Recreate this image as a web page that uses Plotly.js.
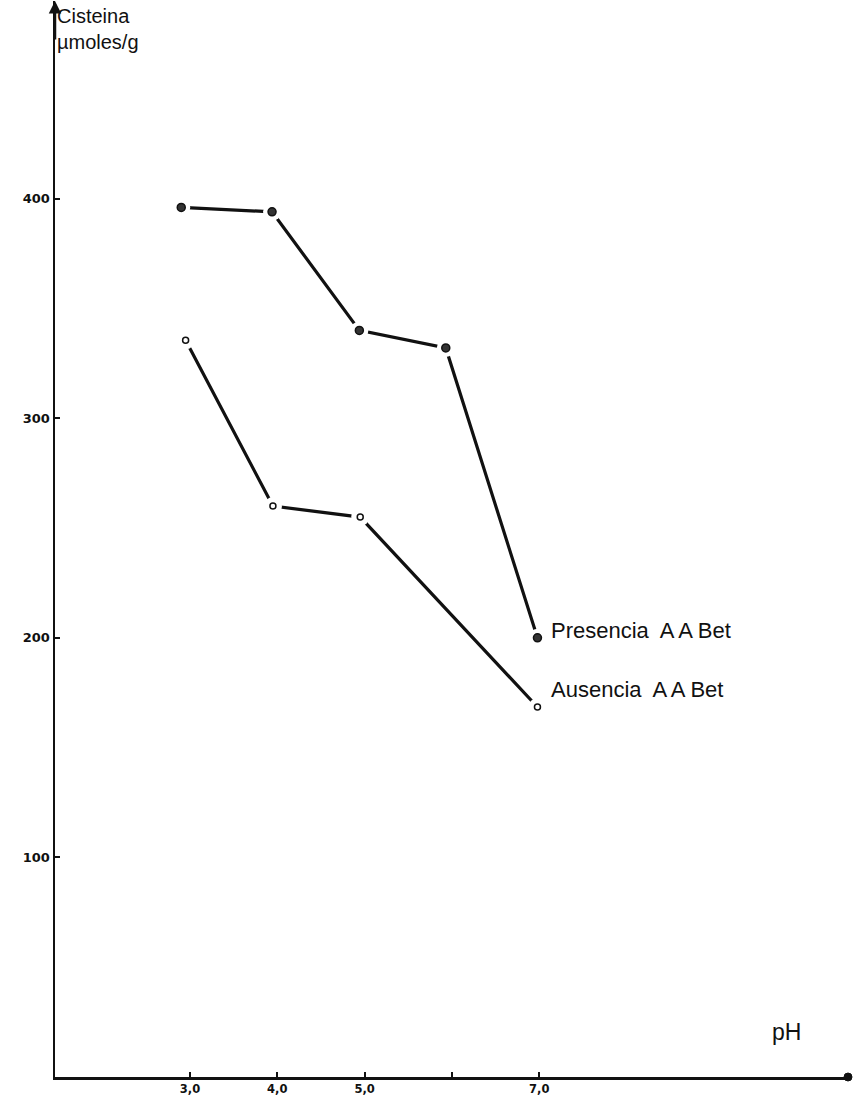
<!DOCTYPE html>
<html>
<head>
<meta charset="utf-8">
<script src="https://cdn.plot.ly/plotly-3.0.1.min.js"></script>
<style>html,body{margin:0;padding:0;background:#fff;}#chart{width:853px;height:1096px;}</style>
</head>
<body>
<div id="chart"></div>
<script>
// Data
const seriesNames = ["Presencia  A A Bet", "Ausencia  A A Bet"];
const presenciaPH = [2.9, 3.94, 4.94, 5.93, 6.98];
const presenciaCis = [396, 394, 340, 332, 200];
const ausenciaPH = [2.95, 3.95, 4.95, 6.98];
const ausenciaCis = [335.5, 260, 255, 168.5];
const xTickVals = [3, 4, 5, 6, 7];
const xTickText = ["3,0", "4,0", "5,0", "", "7,0"];
const yTickVals = [100, 200, 300, 400];
const yTickText = ["100", "200", "300", "400"];

const ink = "#111";
const traces = [];
function addSeries(x, y, filled) {
  traces.push({x: x, y: y, type: "scatter", mode: "lines",
    line: {color: ink, width: 3.2}, hoverinfo: "skip", showlegend: false});
  traces.push({x: x, y: y, type: "scatter", mode: "markers",
    marker: {color: "#fff", size: 18}, hoverinfo: "skip", showlegend: false});
  traces.push({x: x, y: y, type: "scatter", mode: "markers",
    marker: filled ? {color: "#333", size: 8, line: {color: ink, width: 1.5}}
                   : {color: "#fff", size: 6, line: {color: ink, width: 1.5}},
    showlegend: false});
}
addSeries(presenciaPH, presenciaCis, true);
addSeries(ausenciaPH, ausenciaCis, false);

const yTickFont = {family: "DejaVu Sans", size: 13, color: ink, weight: "bold"};
const xTickFont = {family: "DejaVu Sans", size: 11.5, color: ink, weight: "bold"};
const labelFont = {family: "Liberation Sans", size: 22, color: ink};

const layout = {
  width: 853, height: 1096,
  margin: {l: 55, r: 5, t: 1, b: 19},
  paper_bgcolor: "#fff", plot_bgcolor: "#fff",
  showlegend: false,
  xaxis: {range: [1.454, 10.537], showgrid: false, zeroline: false,
    showline: true, linecolor: ink, linewidth: 2.5,
    tickmode: "array", tickvals: xTickVals, ticktext: xTickText,
    ticks: "inside", ticklen: 5, tickwidth: 2, tickcolor: ink,
    tickfont: xTickFont},
  yaxis: {range: [0, 490], showgrid: false, zeroline: false,
    showline: true, linecolor: ink, linewidth: 2.5,
    tickmode: "array", tickvals: yTickVals, ticktext: yTickText,
    ticks: "inside", ticklen: 5, tickwidth: 2, tickcolor: ink,
    tickfont: yTickFont},
  annotations: [
    {xref: "paper", yref: "paper", x: 0, y: 1, text: "", showarrow: true,
     ax: 0, ay: 40, arrowhead: 2, arrowsize: 1, arrowwidth: 2.5, arrowcolor: ink},
    {xref: "paper", yref: "paper", x: 0, y: 1, xanchor: "left", yanchor: "top",
     xshift: 0, yshift: -2, align: "left", showarrow: false,
     text: "Cisteina<br>µmoles/g", font: {family: "Liberation Sans", size: 20, color: ink}},
    {xref: "paper", yref: "paper", x: 0.922, y: 0, xanchor: "center", yanchor: "bottom",
     yshift: 30, showarrow: false, text: "pH",
     font: {family: "Liberation Sans", size: 23, color: ink}},
    {xref: "x", yref: "y", x: presenciaPH[presenciaPH.length - 1], y: presenciaCis[presenciaCis.length - 1],
     xanchor: "left", yanchor: "middle", xshift: 12, yshift: 7, showarrow: false,
     text: seriesNames[0], font: labelFont},
    {xref: "x", yref: "y", x: ausenciaPH[ausenciaPH.length - 1], y: ausenciaCis[ausenciaCis.length - 1],
     xanchor: "left", yanchor: "middle", xshift: 12, yshift: 17, showarrow: false,
     text: seriesNames[1], font: labelFont}
  ],
  shapes: [
    {type: "circle", xref: "paper", yref: "paper", xsizemode: "pixel", ysizemode: "pixel",
     xanchor: 1, yanchor: 0, x0: -4, x1: 4, y0: -4, y1: 4,
     fillcolor: ink, line: {color: ink, width: 1}}
  ]
};

Plotly.newPlot("chart", traces, layout, {displayModeBar: false, staticPlot: true});
</script>
</body>
</html>
